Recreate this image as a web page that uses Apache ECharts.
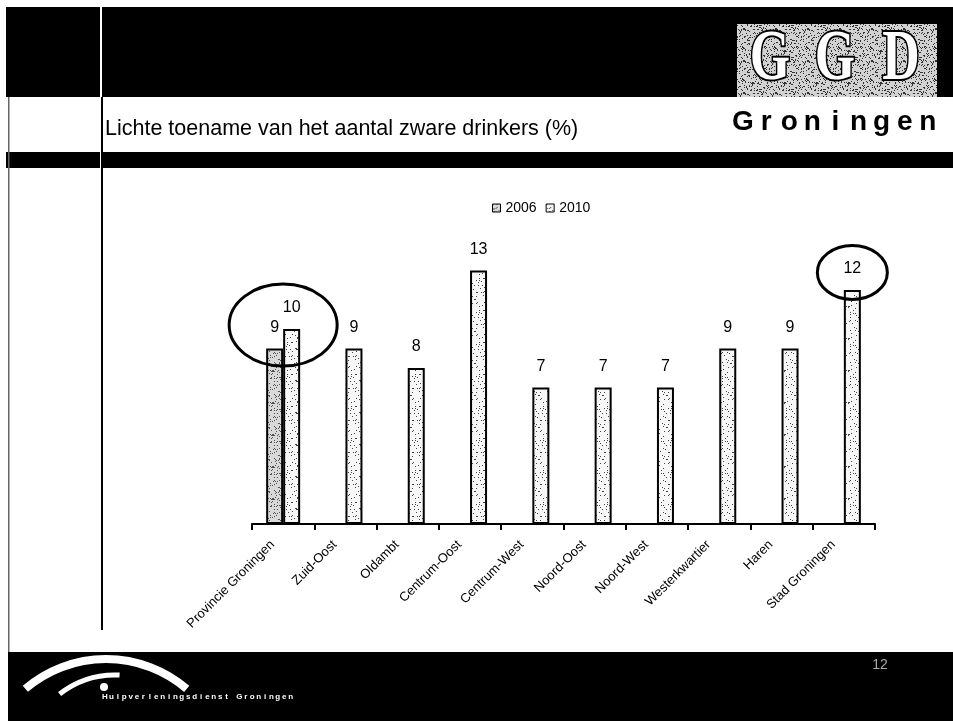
<!DOCTYPE html>
<html>
<head>
<meta charset="utf-8">
<script src="https://cdn.jsdelivr.net/npm/echarts@6/dist/echarts.min.js"></script>
<style>
  html, body { margin: 0; padding: 0; background: #fff; }
  #main { width: 953px; height: 721px; }
</style>
</head>
<body>
<div id="main"></div>
<script>
// gegevens
var categories = ['Provincie Groningen', 'Zuid-Oost', 'Oldambt', 'Centrum-Oost', 'Centrum-West',
                  'Noord-Oost', 'Noord-West', 'Westerkwartier', 'Haren', 'Stad Groningen'];
var values2006 = [9, '-', '-', '-', '-', '-', '-', '-', '-', '-'];
var values2010 = [10, 9, 8, 13, 7, 7, 7, 9, 9, 12];
var seriesNames = ['2006', '2010'];

var FONT = '"Liberation Sans", Arial, sans-serif';

// gespikkelde vulling zoals de scan
function speckle(bg, dot, n, size) {
    var c = document.createElement('canvas');
    c.width = c.height = size;
    var g = c.getContext('2d');
    g.fillStyle = bg;
    g.fillRect(0, 0, size, size);
    g.fillStyle = dot;
    for (var i = 0; i < n; i++) {
        var x = (i * 17 + (i * i) % 11) % size;
        var y = (i * 29 + (i * i * 3) % 13) % size;
        g.fillRect(x, y, 1, 1);
    }
    return c;
}

var fill2006 = { image: speckle('#d9d9d9', '#555', 160, 32), repeat: 'repeat' };
var fill2010 = { image: speckle('#f7f7f7', '#444', 70, 32), repeat: 'repeat' };
var fillLogo = { image: speckle('#d2d2d2', '#333', 200, 32), repeat: 'repeat' };

function spaced(text, x0, pitch, y, font, color, id) {
    return text.split('').map(function (ch, i) {
        return {
            type: 'text', id: id + i, x: x0 + i * pitch, y: y, silent: true,
            style: { text: ch, font: font, fill: color, textAlign: 'center', textVerticalAlign: 'middle' }
        };
    });
}

var slide = [
    // kop
    { type: 'rect', id: 'head', shape: { x: 6, y: 7, width: 947, height: 90 }, style: { fill: '#000' } },
    { type: 'rect', id: 'band', shape: { x: 6, y: 152, width: 947, height: 16 }, style: { fill: '#000' } },
    { type: 'rect', id: 'vw1', shape: { x: 100, y: 7, width: 2, height: 90 }, style: { fill: '#fff' } },
    { type: 'rect', id: 'vw2', shape: { x: 100, y: 152, width: 2, height: 16 }, style: { fill: '#fff' } },
    { type: 'rect', id: 'vb', shape: { x: 101, y: 97, width: 2, height: 533 }, style: { fill: '#000' } },
    { type: 'rect', id: 'vl', shape: { x: 8, y: 97, width: 1.5, height: 555 }, style: { fill: '#666' } },
    { type: 'rect', id: 'logo', shape: { x: 737, y: 24, width: 200, height: 73 }, style: { fill: fillLogo } },
    { type: 'text', id: 'title', x: 105, y: 129,
      style: { text: 'Lichte toename van het aantal zware drinkers (%)', font: '21.5px ' + FONT, fill: '#000',
               textVerticalAlign: 'middle' } },
    // voet
    { type: 'rect', id: 'foot', shape: { x: 8, y: 652, width: 945, height: 69 }, style: { fill: '#000' } },
    { type: 'arc', id: 'arc1', shape: { cx: 106, cy: 783, r: 124, startAngle: -2.279, endAngle: -0.862, clockwise: true },
      style: { stroke: '#fff', lineWidth: 8, fill: null } },
    { type: 'arc', id: 'arc2', shape: { cx: 115, cy: 765, r: 90, startAngle: -2.234, endAngle: -1.52, clockwise: true },
      style: { stroke: '#fff', lineWidth: 5, fill: null } },
    { type: 'circle', id: 'dot', shape: { cx: 104, cy: 687, r: 4 }, style: { fill: '#fff' } },
    { type: 'text', id: 'page', x: 880, y: 665,
      style: { text: '12', font: '14px ' + FONT, fill: '#aaa', textAlign: 'center', textVerticalAlign: 'middle' } }
];

['G', 'G', 'D'].forEach(function (ch, i) {
    slide.push({
        type: 'text', id: 'ggd' + i, x: [770, 835, 901][i], y: 60, scaleX: 0.72,
        style: { text: ch, font: 'bold 72px "Liberation Serif", serif', fill: '#fff', stroke: '#000', lineWidth: 4,
                 textAlign: 'center', textVerticalAlign: 'middle' }
    });
});
slide = slide.concat(spaced('Groningen', 743, 23.1, 122, 'bold 28px ' + FONT, '#000', 'gr'));
slide = slide.concat(spaced('Hulpverleningsdienst Groningen', 105, 6.4, 697, 'bold 8px ' + FONT, '#fff', 'hv'));

var myChart = echarts.init(document.getElementById('main'));

myChart.setOption({
    backgroundColor: '#fff',
    animation: false,
    graphic: slide,
    legend: {
        left: 487, top: 196,
        itemWidth: 8, itemHeight: 8, itemGap: 9,
        icon: 'rect',
        textStyle: { fontFamily: FONT, fontSize: 14, color: '#000' },
        itemStyle: { borderColor: '#000', borderWidth: 1 },
        data: seriesNames
    },
    grid: { left: 252, right: 78, top: 251, bottom: 197 },
    xAxis: {
        type: 'category',
        data: categories,
        axisLine: { lineStyle: { color: '#000', width: 2 } },
        axisTick: { show: true, length: 6, lineStyle: { color: '#000', width: 2 } },
        axisLabel: {
            interval: 0, rotate: 45, margin: 8, padding: [0, 15, 0, 0],
            fontFamily: FONT, fontSize: 13, color: '#000'
        }
    },
    yAxis: { type: 'value', min: 0, max: 14, show: false, splitLine: { show: false } },
    series: [
        {
            name: seriesNames[0], type: 'bar', data: values2006,
            barWidth: 17, barGap: '0%',
            itemStyle: { color: fill2006, borderColor: '#000', borderWidth: 2 },
            label: { show: true, position: 'top', distance: 13, fontFamily: FONT, fontSize: 16, color: '#000' }
        },
        {
            name: seriesNames[1], type: 'bar', data: values2010,
            barWidth: 17,
            itemStyle: { color: fill2010, borderColor: '#000', borderWidth: 2 },
            label: { show: true, position: 'top', distance: 13, fontFamily: FONT, fontSize: 16, color: '#000' }
        }
    ]
});

// omcirkelde waarden
var rings = [
    { cat: 0, val: 10.2, dx: 0, rx: 54, ry: 41 },
    { cat: 9, val: 12.9, dx: 8.5, rx: 35, ry: 27 }
];
myChart.setOption({
    graphic: rings.map(function (r, i) {
        var p = myChart.convertToPixel({ xAxisIndex: 0, yAxisIndex: 0 }, [categories[r.cat], r.val]);
        return {
            type: 'ellipse', id: 'ring' + i, z: 100,
            shape: { cx: p[0] + r.dx, cy: p[1], rx: r.rx, ry: r.ry },
            style: { fill: null, stroke: '#000', lineWidth: 3 }
        };
    })
});
</script>
</body>
</html>
